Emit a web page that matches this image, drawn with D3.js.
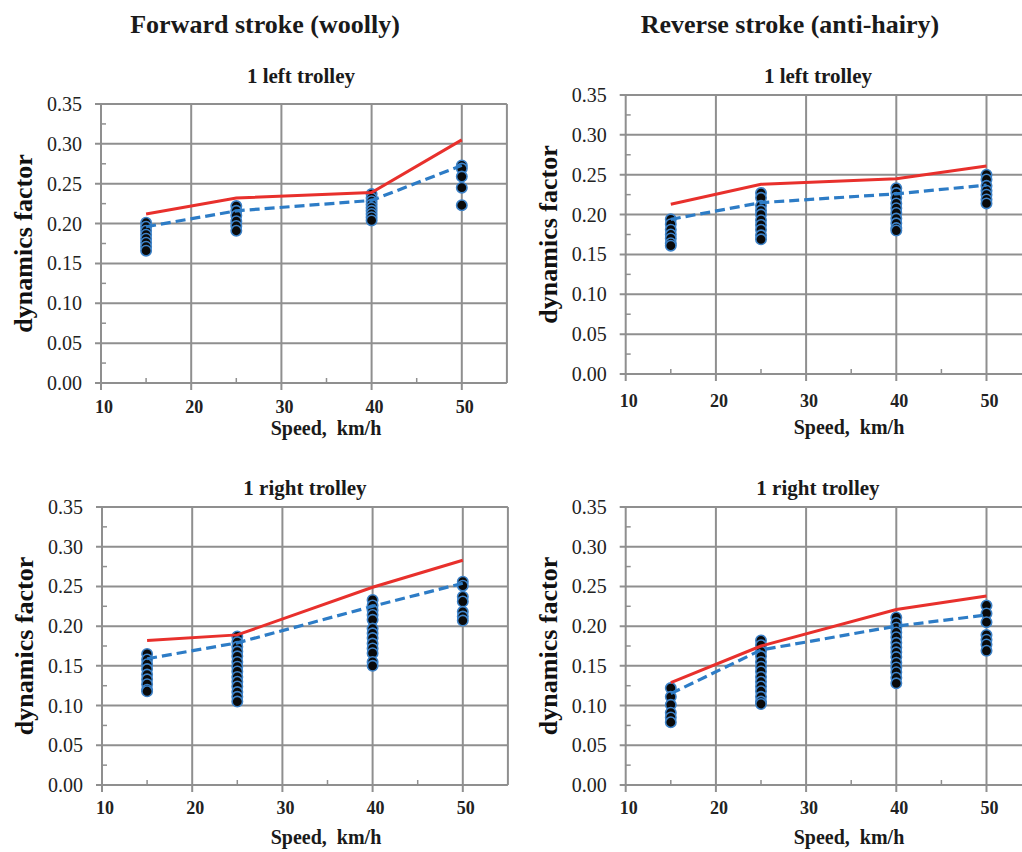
<!DOCTYPE html>
<html>
<head>
<meta charset="utf-8">
<script src="https://cdn.jsdelivr.net/npm/d3@7"></script>
<style>
  html, body { margin: 0; padding: 0; background: #fff; }
  svg { display: block; font-family: 'Liberation Serif', 'Times New Roman', serif; }
</style>
</head>
<body>
<svg id="chart" width="1022" height="852"></svg>
<script>
// speeds where measurements were taken (km/h)
const speeds = [15, 25, 40, 50]
const xTicks = [10, 20, 30, 40, 50]
const xMinorTicks = [15, 25, 35, 45]
const yTicks = [0, 0.05, 0.1, 0.15, 0.2, 0.25, 0.3, 0.35]
const yMinorTicks = [0.025, 0.075, 0.125, 0.175, 0.225, 0.275, 0.325]

const columnTitles = ['Forward stroke (woolly)', 'Reverse stroke (anti-hairy)']

// forward stroke, 1 left trolley
const fwdLeftUpper = [0.212, 0.232, 0.239, 0.305]
const fwdLeftMean = [0.196, 0.216, 0.229, 0.273]
const fwdLeftDots = [
  [0.201, 0.196, 0.191, 0.186, 0.181, 0.176, 0.171, 0.166],
  [0.222, 0.216, 0.210, 0.203, 0.197, 0.191],
  [0.237, 0.232, 0.228, 0.224, 0.220, 0.216, 0.212, 0.208, 0.204],
  [0.273, 0.269, 0.259, 0.245, 0.223]
]

// reverse stroke, 1 left trolley
const revLeftUpper = [0.213, 0.238, 0.245, 0.261]
const revLeftMean = [0.194, 0.215, 0.226, 0.237]
const revLeftDots = [
  [0.194, 0.188, 0.181, 0.175, 0.170, 0.164, 0.161],
  [0.227, 0.221, 0.211, 0.205, 0.200, 0.193, 0.187, 0.181, 0.174, 0.169],
  [0.233, 0.227, 0.221, 0.214, 0.208, 0.202, 0.195, 0.189, 0.183, 0.180],
  [0.250, 0.244, 0.236, 0.230, 0.225, 0.219, 0.214]
]

// forward stroke, 1 right trolley
const fwdRightUpper = [0.182, 0.189, 0.249, 0.283]
const fwdRightMean = [0.159, 0.179, 0.225, 0.254]
const fwdRightDots = [
  [0.165, 0.158, 0.152, 0.146, 0.139, 0.133, 0.127, 0.120, 0.118],
  [0.187, 0.180, 0.174, 0.168, 0.162, 0.155, 0.149, 0.143, 0.136, 0.130, 0.124, 0.117, 0.111, 0.105],
  [0.233, 0.226, 0.220, 0.214, 0.208, 0.197, 0.191, 0.185, 0.178, 0.172, 0.166, 0.155, 0.150],
  [0.256, 0.251, 0.237, 0.231, 0.218, 0.212, 0.207]
]

// reverse stroke, 1 right trolley
const revRightUpper = [0.129, 0.175, 0.221, 0.238]
const revRightMean = [0.115, 0.170, 0.200, 0.214]
const revRightDots = [
  [0.122, 0.111, 0.101, 0.091, 0.085, 0.079],
  [0.182, 0.176, 0.168, 0.162, 0.155, 0.149, 0.143, 0.136, 0.130, 0.124, 0.118, 0.111, 0.105, 0.102],
  [0.211, 0.204, 0.198, 0.192, 0.186, 0.179, 0.173, 0.167, 0.161, 0.154, 0.148, 0.142, 0.135, 0.128],
  [0.226, 0.216, 0.205, 0.189, 0.183, 0.177, 0.169]
]

const gridColor = '#8f8f8f'
const redColor = '#e8302c'
const blueColor = '#2d7cc6'

const svg = d3.select('#chart')

svg.append('rect').attr('width', 1022).attr('height', 852).attr('fill', '#fff')

// column headings
svg.selectAll('.col-title')
  .data(columnTitles)
  .enter()
  .append('text')
  .attr('class', 'col-title')
  .attr('x', (d, i) => (i === 0 ? 265 : 790))
  .attr('y', 33)
  .attr('text-anchor', 'middle')
  .attr('font-size', 26)
  .attr('font-weight', 'bold')
  .attr('fill', '#1a1a1a')
  .text((d) => d)

const panels = [
  { title: '1 left trolley', upper: fwdLeftUpper, mean: fwdLeftMean, dots: fwdLeftDots,
    left: 101, top: 104, bottom: 383, titleX: 301, titleY: 83, labX: 326, labY: 435, tickY: 413 },
  { title: '1 left trolley', upper: revLeftUpper, mean: revLeftMean, dots: revLeftDots,
    left: 625.7, top: 95, bottom: 374, titleX: 818, titleY: 83, labX: 849, labY: 434, tickY: 407 },
  { title: '1 right trolley', upper: fwdRightUpper, mean: fwdRightMean, dots: fwdRightDots,
    left: 102, top: 507, bottom: 785, titleX: 305, titleY: 495, labX: 326, labY: 844, tickY: 814 },
  { title: '1 right trolley', upper: revRightUpper, mean: revRightMean, dots: revRightDots,
    left: 625.7, top: 507, bottom: 785, titleX: 818, titleY: 495, labX: 849, labY: 844, tickY: 814 }
]

panels.forEach(drawPanel)

function drawPanel(p) {
  const x = d3.scaleLinear().domain([10, 55]).range([p.left, p.left + 45 * 9.02])
  const y = d3.scaleLinear().domain([0, 0.35]).range([p.bottom, p.top])
  const g = svg.append('g')

  // horizontal grid (extends out as major tick)
  g.selectAll('.hgrid')
    .data(yTicks)
    .enter()
    .append('line')
    .attr('x1', x(10) - 6)
    .attr('x2', x(55))
    .attr('y1', (d) => y(d))
    .attr('y2', (d) => y(d))
    .attr('stroke', gridColor)
    .attr('stroke-width', 2)

  // vertical grid
  g.selectAll('.vgrid')
    .data(xTicks)
    .enter()
    .append('line')
    .attr('x1', (d) => x(d))
    .attr('x2', (d) => x(d))
    .attr('y1', y(0.35))
    .attr('y2', y(0) + 7)
    .attr('stroke', gridColor)
    .attr('stroke-width', 2)

  // right border
  g.append('line')
    .attr('x1', x(55)).attr('x2', x(55))
    .attr('y1', y(0.35)).attr('y2', y(0))
    .attr('stroke', gridColor).attr('stroke-width', 2)

  // minor ticks, pointing inward
  g.selectAll('.ymin')
    .data(yMinorTicks)
    .enter()
    .append('line')
    .attr('x1', x(10)).attr('x2', x(10) + 5)
    .attr('y1', (d) => y(d)).attr('y2', (d) => y(d))
    .attr('stroke', gridColor).attr('stroke-width', 1.5)

  g.selectAll('.xmin')
    .data(xMinorTicks)
    .enter()
    .append('line')
    .attr('x1', (d) => x(d)).attr('x2', (d) => x(d))
    .attr('y1', y(0)).attr('y2', y(0) - 5)
    .attr('stroke', gridColor).attr('stroke-width', 1.5)

  // tick labels
  g.selectAll('.ylab')
    .data(yTicks)
    .enter()
    .append('text')
    .attr('x', x(10) - 19)
    .attr('y', (d) => y(d))
    .attr('dy', '0.35em')
    .attr('text-anchor', 'end')
    .attr('font-size', 20)
    .attr('fill', '#222')
    .text((d) => d3.format('.2f')(d))

  g.selectAll('.xlab')
    .data(xTicks)
    .enter()
    .append('text')
    .attr('x', (d) => x(d) + 3)
    .attr('y', p.tickY)
    .attr('text-anchor', 'middle')
    .attr('font-size', 18)
    .attr('font-weight', 'bold')
    .attr('fill', '#222')
    .text((d) => d)

  // titles
  g.append('text')
    .attr('x', p.titleX).attr('y', p.titleY)
    .attr('text-anchor', 'middle')
    .attr('font-size', 21).attr('font-weight', 'bold').attr('fill', '#1a1a1a')
    .text(p.title)

  g.append('text')
    .attr('x', p.labX).attr('y', p.labY)
    .attr('text-anchor', 'middle')
    .attr('font-size', 20).attr('font-weight', 'bold').attr('fill', '#1a1a1a')
    .attr('xml:space', 'preserve')
    .text('Speed,  km/h')

  const cy = (p.top + p.bottom) / 2
  g.append('text')
    .attr('transform', `translate(${x(10) - 69},${cy}) rotate(-90)`)
    .attr('text-anchor', 'middle')
    .attr('font-size', 26).attr('font-weight', 'bold').attr('fill', '#111')
    .text('dynamics factor')

  // measured points
  const pts = []
  p.dots.forEach((col, i) => col.forEach((v) => pts.push({ s: speeds[i], v })))

  g.selectAll('.dot')
    .data(pts)
    .enter()
    .append('circle')
    .attr('cx', (d) => x(d.s))
    .attr('cy', (d) => y(d.v))
    .attr('r', 5.2)
    .attr('fill', '#0a0a0a')
    .attr('stroke', '#3d82c8')
    .attr('stroke-width', 1.6)

  const line = d3.line().x((d, i) => x(speeds[i])).y((d) => y(d))

  g.append('path')
    .datum(p.mean)
    .attr('d', line)
    .attr('fill', 'none')
    .attr('stroke', blueColor)
    .attr('stroke-width', 3.2)
    .attr('stroke-dasharray', '10 5')

  g.append('path')
    .datum(p.upper)
    .attr('d', line)
    .attr('fill', 'none')
    .attr('stroke', redColor)
    .attr('stroke-width', 3)
}
</script>
</body>
</html>
